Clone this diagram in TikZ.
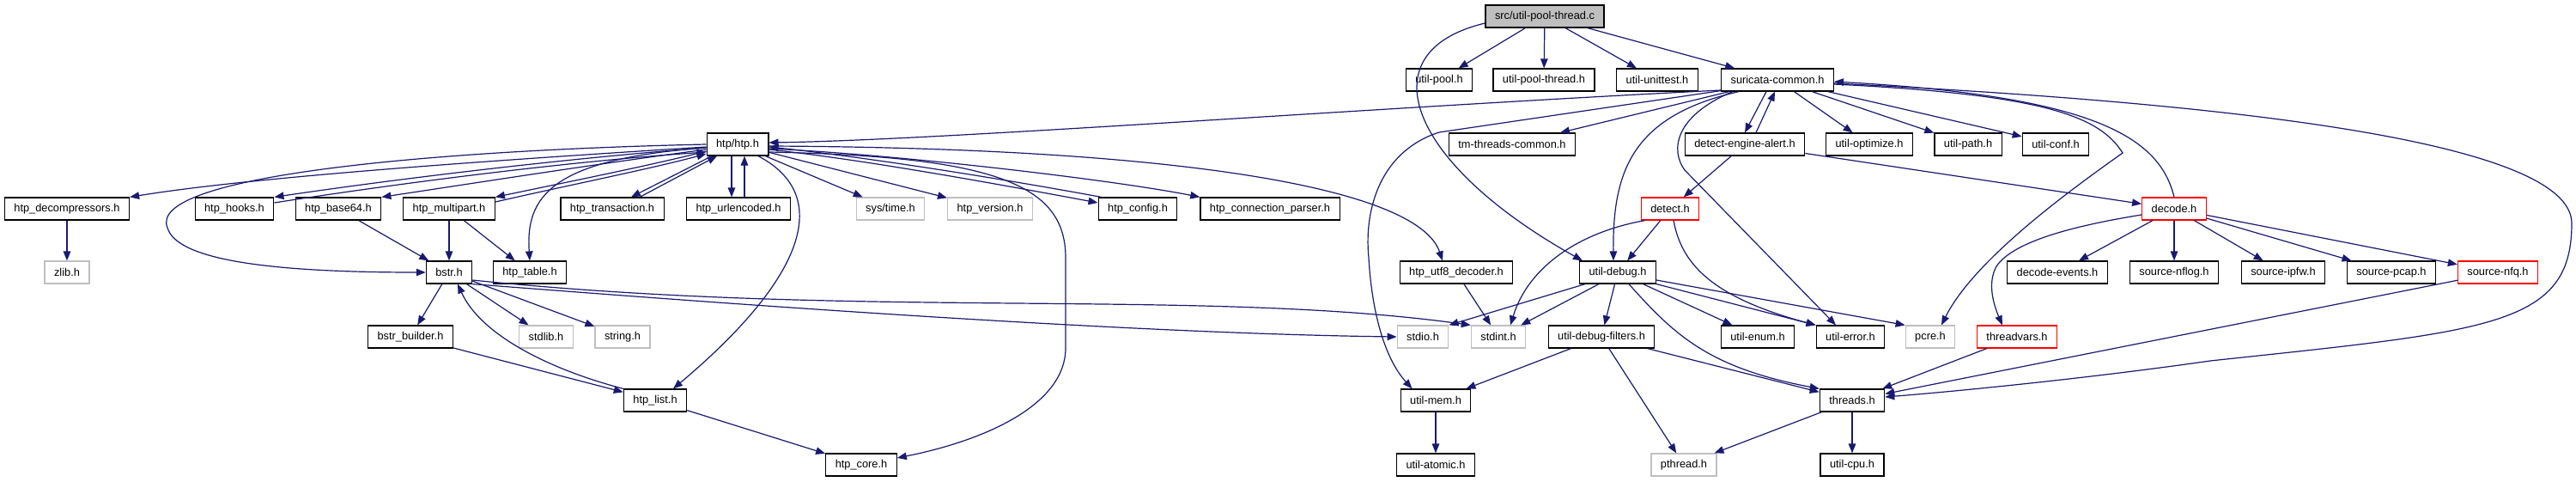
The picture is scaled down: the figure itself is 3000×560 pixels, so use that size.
\documentclass[tikz,border=0pt]{standalone}
\usepackage{fontspec}
\setmainfont{Liberation Sans}
\usetikzlibrary{arrows.meta,calc}
\definecolor{edgec}{HTML}{191970}
\definecolor{grayframe}{HTML}{BFBFBF}
\definecolor{rootfill}{HTML}{BFBFBF}
\definecolor{redframe}{HTML}{FF0000}
\begin{document}
\begin{tikzpicture}[x=1pt,y=-1pt,
  box/.style={draw=black, line width=1.2pt, fill=white, minimum height=26pt,
    inner xsep=11pt, inner ysep=0pt, text=black,
    font=\fontsize{12.8pt}{15pt}\selectfont},
  gbox/.style={box, draw=grayframe},
  rbox/.style={box, draw=redframe},
  rootbox/.style={box, fill=rootfill},
  dep/.style={draw=edgec, line width=1.2pt, -{Triangle[length=11pt,width=8.5pt]}}]
\fill[white] (0,0) rectangle (3000,560);
\useasboundingbox (0,0) rectangle (3000,560);
% row 0
\node[rootbox] (root) at (1799,19) {src/util-pool-thread.c};
% row 1
\node[box] (upool) at (1676,93) {util-pool.h};
\node[box] (upt) at (1798,93) {util-pool-thread.h};
\node[box] (uut) at (1930,93) {util-unittest.h};
\node[box] (sc) at (2070,93) {suricata-common.h};
% row 2
\node[box] (htp) at (859,168) {htp/htp.h};
\node[box] (tmc) at (1761,168) {tm-threads-common.h};
\node[box] (dea) at (2032,168) {detect-engine-alert.h};
\node[box] (uopt) at (2177,168) {util-optimize.h};
\node[box] (upath) at (2292,168) {util-path.h};
\node[box] (uconf) at (2394,168) {util-conf.h};
% row 3
\node[box] (hdec) at (78,243) {htp\_decompressors.h};
\node[box] (hhooks) at (273,243) {htp\_hooks.h};
\node[box] (hb64) at (394,243) {htp\_base64.h};
\node[box] (hmp) at (523,243) {htp\_multipart.h};
\node[box] (htx) at (713,243) {htp\_transaction.h};
\node[box] (hurl) at (860,243) {htp\_urlencoded.h};
\node[gbox] (systime) at (1037,243) {sys/time.h};
\node[gbox] (hver) at (1153,243) {htp\_version.h};
\node[box] (hcfg) at (1325,243) {htp\_config.h};
\node[box] (hcp) at (1479,243) {htp\_connection\_parser.h};
\node[rbox] (detect) at (1945,243) {detect.h};
\node[rbox] (decode) at (2532,243) {decode.h};
% row 4
\node[gbox] (zlib) at (78,317) {zlib.h};
\node[box] (bstr) at (523,317) {bstr.h};
\node[box] (htable) at (617,317) {htp\_table.h};
\node[box] (hutf8) at (1696,317) {htp\_utf8\_decoder.h};
\node[box] (udebug) at (1884,317) {util-debug.h};
\node[box] (devents) at (2396,317) {decode-events.h};
\node[box] (snflog) at (2532,317) {source-nflog.h};
\node[box] (sipfw) at (2659,317) {source-ipfw.h};
\node[box] (spcap) at (2785,317) {source-pcap.h};
\node[rbox] (snfq) at (2909,317) {source-nfq.h};
% row 5
\node[box] (bbuild) at (478,392) {bstr\_builder.h};
\node[gbox] (stdlib) at (636,392) {stdlib.h};
\node[gbox] (string) at (725,392) {string.h};
\node[gbox] (stdio) at (1657,392) {stdio.h};
\node[gbox] (stdint) at (1745,392) {stdint.h};
\node[box] (udf) at (1865,392) {util-debug-filters.h};
\node[box] (uenum) at (2047,392) {util-enum.h};
\node[box] (uerr) at (2155,392) {util-error.h};
\node[gbox] (pcre) at (2248,392) {pcre.h};
\node[rbox] (tvars) at (2349,392) {threadvars.h};
% row 6
\node[box] (hlist) at (763,466) {htp\_list.h};
\node[box] (umem) at (1672,466) {util-mem.h};
\node[box] (threads) at (2157,466) {threads.h};
% row 7
\node[box] (hcore) at (1003,541) {htp\_core.h};
\node[box] (uatom) at (1672,541) {util-atomic.h};
\node[gbox] (pthread) at (1961,541) {pthread.h};
\node[box] (ucpu) at (2157,541) {util-cpu.h};

% ---- edges from root
\draw[dep] (root) -- (upool);
\draw[dep] (root) -- (upt);
\draw[dep] (root) -- (uut);
\draw[dep] (root) -- (sc);
\draw[dep] ($(root.west)+(0,8)$) .. controls (1590,60) and (1640,190) .. ($(udebug.north west)+(4,0)$);

% ---- suricata-common
\draw[dep] ($(sc.west)+(0,12)$) .. controls (1600,125) and (1100,163) .. ($(htp.east)+(0,-2)$);
\draw[dep] (sc) -- (tmc);
\draw[dep] ($(sc.south)+(-13,0)$) -- (dea.north);
\draw[dep] ($(dea.north)+(13,0)$) -- ($(sc.south)+(-3,0)$);
\draw[dep] (sc) -- (uopt);
\draw[dep] (sc) -- (upath);
\draw[dep] (sc) -- (uconf);
\draw[dep] ($(sc.south)+(-45,0)$) .. controls (1900,135) and (1878,200) .. ($(udebug.north)+(-5,0)$);
\draw[dep] ($(sc.south west)+(0,-1)$) -- (1676,154) .. controls (1610,175) and (1588,240) .. (1594,300) .. controls (1598,370) and (1615,420) .. ($(umem.north west)+(14,0)$);
\draw[dep] ($(sc.south)+(-52,0)$) .. controls (1950,135) and (1945,175) .. (1962,198) -- ($(uerr.north)+(-17,0)$);
\draw[dep] ($(sc.east)+(0,5)$) .. controls (2380,110) and (2445,135) .. (2472,178) .. controls (2420,215) and (2300,300) .. ($(pcre.north)+(13,0)$);
\draw[dep] ($(sc.east)+(0,4)$) .. controls (2600,120) and (2995,165) .. (2995,260) .. controls (2995,380) and (2900,385) .. (2574,420) .. controls (2420,442) and (2260,457) .. ($(threads.east)+(0,-4)$);

% ---- detect-engine-alert
\draw[dep] (dea) -- (detect);
\draw[dep] (dea) -- (decode);

% ---- detect
\draw[dep] (detect) -- (udebug);
\draw[dep] ($(detect.south west)+(5,0)$) .. controls (1840,270) and (1780,310) .. ($(stdint.north)+(14,0)$);
\draw[dep] ($(detect.south)+(4,0)$) .. controls (1958,305) and (1990,345) .. (uerr.north west);

% ---- util-debug
\draw[dep] ($(udebug.south west)+(7,0)$) -- (stdio.north east);
\draw[dep] ($(udebug.south)+(-22,0)$) -- ($(stdint.north east)+(-6,0)$);
\draw[dep] (udebug) -- (udf);
\draw[dep] ($(udebug.south)+(13,0)$) .. controls (1950,390) and (1990,428) .. (threads.north west);
\draw[dep] (udebug) -- (uenum);
\draw[dep] (udebug.south east) -- (uerr.north west);
\draw[dep] ($(udebug.east)+(0,9)$) -- (pcre.north west);

% ---- util-debug-filters and lower
\draw[dep] (udf) -- (umem);
\draw[dep] (udf) -- (pthread);
\draw[dep] (udf) -- (threads);
\draw[dep] (umem) -- (uatom);
\draw[dep] (threads) -- (pthread);
\draw[dep] (threads) -- (ucpu);
\draw[dep] (tvars) -- (threads);
\draw[dep] (snfq) -- (threads);

% ---- decode
\draw[dep] (decode.north) .. controls (2515,160) and (2440,112) .. ($(sc.east)+(0,2)$);
\draw[dep] ($(decode.west)+(0,7)$) .. controls (2420,262) and (2345,280) .. (2325,310) .. controls (2314,330) and (2322,355) .. ($(tvars.north west)+(30,0)$);
\draw[dep] (decode) -- (devents);
\draw[dep] (decode) -- (snflog);
\draw[dep] (decode) -- (sipfw);
\draw[dep] (decode) -- (spcap);
\draw[dep] (decode) -- (snfq);

% ---- htp/htp.h
\draw[dep] ($(htp.west)+(0,3)$) .. controls (600,185) and (300,205) .. (hdec.north east);
\draw[dep] ($(htp.west)+(0,4)$) .. controls (650,185) and (450,210) .. (hhooks.north east);
\draw[dep] ($(hhooks.east)+(0,-7)$) .. controls (460,214) and (660,188) .. ($(htp.west)+(0,9)$);
\draw[dep] ($(htp.west)+(0,6)$) .. controls (700,190) and (560,212) .. (hb64.north east);
\draw[dep] ($(htp.west)+(0,8)$) .. controls (760,192) and (660,212) .. (hmp.north east);
\draw[dep] ($(hmp.east)+(0,-8)$) .. controls (660,216) and (760,196) .. ($(htp.west)+(0,11)$);
\draw[dep] ($(htp.south)+(-30,0)$) -- ($(htx.north)+(22,0)$);
\draw[dep] ($(htx.north)+(32,0)$) -- ($(htp.south)+(-24,0)$);
\draw[dep] ($(htp.south)+(-7,0)$) -- ($(hurl.north)+(-8,0)$);
\draw[dep] ($(hurl.north)+(7,0)$) -- ($(htp.south)+(8,0)$);
\draw[dep] (htp) -- (systime);
\draw[dep] (htp) -- (hver);
\draw[dep] ($(htp.east)+(0,6)$) .. controls (1000,185) and (1150,212) .. ($(hcfg.west)+(0,-7)$);
\draw[dep] ($(hcfg.north west)+(4,0)$) .. controls (1150,205) and (1000,182) .. ($(htp.east)+(0,3)$);
\draw[dep] ($(htp.east)+(0,5)$) .. controls (1050,180) and (1300,210) .. (hcp.north west);
\draw[dep] ($(htp.east)+(0,2)$) .. controls (1350,172) and (1650,215) .. ($(hutf8.north)+(-16,0)$);
\draw[dep] ($(htp.east)+(0,9)$) .. controls (1160,182) and (1241,215) .. (1241,300) -- (1241,405) .. controls (1241,470) and (1150,512) .. ($(hcore.east)+(0,-8)$);
\draw[dep] (htp.west) .. controls (500,175) and (170,205) .. (195,265) .. controls (205,300) and (300,317) .. (bstr.west);
\draw[dep] ($(htp.west)+(0,4)$) .. controls (640,185) and (612,230) .. (htable.north);
\draw[dep] ($(htp.south)+(24,0)$) .. controls (975,230) and (930,330) .. ($(hlist.north)+(21,0)$);

% ---- lower-left
\draw[dep] (hdec) -- (zlib);
\draw[dep] (hb64) -- (bstr);
\draw[dep] (hmp) -- (bstr);
\draw[dep] (hmp) -- (htable);
\draw[dep] (bstr) -- (bbuild);
\draw[dep] (bstr) -- (stdlib);
\draw[dep] (bstr) -- (string);
\draw[dep] (bstr.south east) .. controls (800,350) and (1300,388) .. (stdio.west);
\draw[dep] ($(bstr.east)+(0,9)$) .. controls (1000,372) and (1400,335) .. (stdint.north west);
\draw[dep] (bbuild) -- (hlist);
\draw[dep] (hlist.north west) .. controls (640,430) and (560,390) .. ($(bstr.south)+(10,0)$);
\draw[dep] (hlist) -- (hcore);
\draw[dep] (hutf8) -- (stdint);
\end{tikzpicture}
\end{document}
